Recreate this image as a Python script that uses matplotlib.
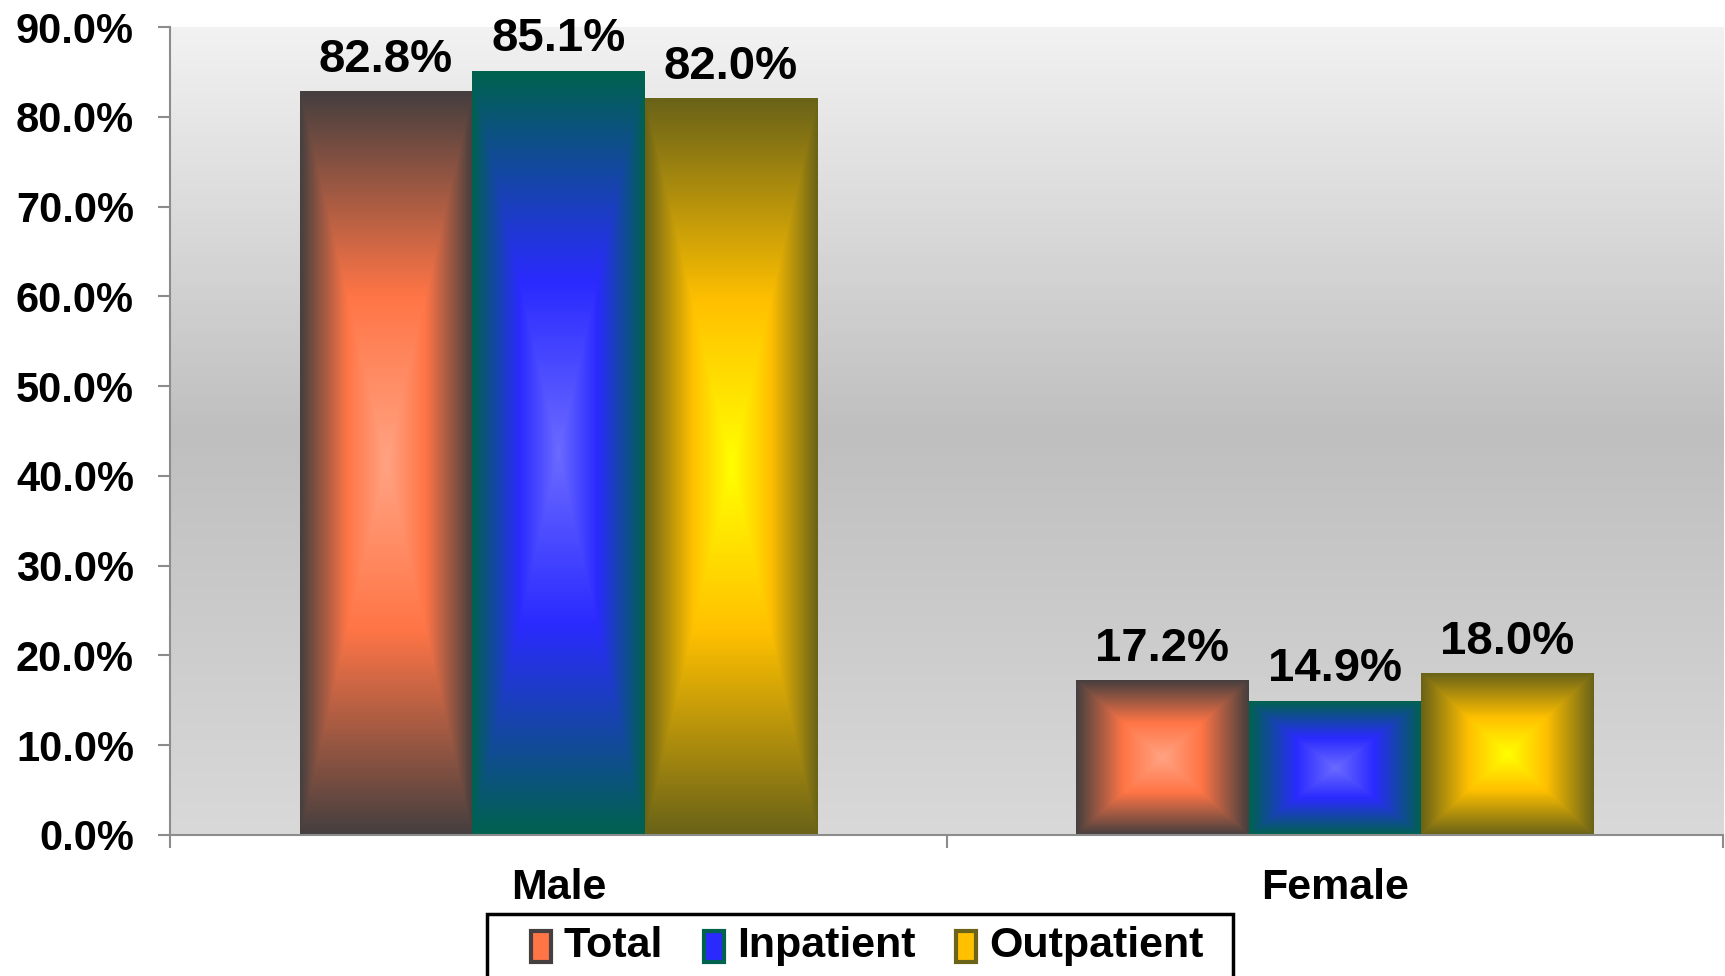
import numpy as np
import matplotlib
matplotlib.use("Agg")
import matplotlib.pyplot as plt
from matplotlib.colors import LinearSegmentedColormap
from matplotlib.patches import Rectangle
from matplotlib.legend_handler import HandlerPatch

plt.rcParams["font.family"] = ["Liberation Sans", "DejaVu Sans"]
plt.rcParams["font.weight"] = "bold"

# ---- Data -------------------------------------------------------------
categories = ["Male", "Female"]
series = ["Total", "Inpatient", "Outpatient"]
total = [82.8, 17.2]
inpatient = [85.1, 14.9]
outpatient = [82.0, 18.0]
yticks = [0, 10, 20, 30, 40, 50, 60, 70, 80, 90]

# light centre, base colour, dark rim
ramps = {
    "Total": ["#ffa383", "#ff7546", "#463f3f"],
    "Inpatient": ["#6b6bff", "#2a2aff", "#00624f"],
    "Outpatient": ["#ffff00", "#ffc000", "#6a6318"],
}


def rect_gradient(stops, n=200):
    u = np.linspace(-1, 1, n)
    U, V = np.meshgrid(u, u)
    t = np.maximum(np.abs(U), np.abs(V))
    cmap = LinearSegmentedColormap.from_list(
        "g", [(0, stops[0]), (0.45, stops[1]), (1, stops[2])])
    return cmap(t)


fig = plt.figure(figsize=(17.25, 9.76), dpi=100)
ax = fig.add_axes([0.0986, 0.1445, 0.9004, 0.8278])

# plot-area background: light at top, darker in the middle, lighter at bottom
bg = LinearSegmentedColormap.from_list(
    "bg", [(0, "#d9d9d9"), (0.5, "#bfbfbf"), (1, "#f2f2f2")])
ax.imshow(np.linspace(0, 1, 256).reshape(-1, 1), cmap=bg, origin="lower",
          extent=(0, 1, 0, 1), transform=ax.transAxes, aspect="auto", zorder=0)

x = np.arange(len(categories))
w = 1 / 4.5
for i, (name, vals) in enumerate(zip(series, [total, inpatient, outpatient])):
    bars = ax.bar(x + (i - 1) * w, vals, w, facecolor="none",
                  edgecolor="none", zorder=2)
    img = rect_gradient(ramps[name])
    for b, v in zip(bars, vals):
        x0 = b.get_x()
        ax.imshow(img, extent=(x0, x0 + w, 0, v), aspect="auto", zorder=2,
                  interpolation="bilinear")
        ax.annotate(f"{v:.1f}%", (x0 + w / 2, v), xytext=(0, 7),
                    textcoords="offset points", ha="center", va="bottom",
                    fontsize=34, fontweight="bold")

ax.set_xlim(-0.5, 1.5)
ax.set_ylim(0, 90)
ax.set_yticks(yticks)
ax.set_yticklabels([f"{t:.1f}%" for t in yticks])
ax.set_xticks([-0.5, 0.5, 1.5])
ax.set_xticklabels([])
ax.set_xticks(x, minor=True)
ax.set_xticklabels(categories, minor=True)

for s in ["top", "right"]:
    ax.spines[s].set_visible(False)
for s in ["left", "bottom"]:
    ax.spines[s].set_color("#8c8c8c")
    ax.spines[s].set_linewidth(1.5)
ax.tick_params(axis="y", direction="out", length=9, width=1.5, color="#8c8c8c",
               labelsize=30, pad=17)
ax.tick_params(axis="x", which="major", direction="out", length=9, width=1.5,
               color="#8c8c8c")
ax.tick_params(axis="x", which="minor", length=0, labelsize=31, pad=24)
for lab in ax.get_yticklabels() + ax.get_xticklabels(minor=True):
    lab.set_fontweight("bold")


class GradHandler(HandlerPatch):
    def create_artists(self, legend, orig, xd, yd, width, height, fontsize, trans):
        r = Rectangle((xd, yd - 2), width, height + 4,
                      facecolor=orig.get_facecolor(),
                      edgecolor=orig.get_edgecolor(), linewidth=3,
                      transform=trans)
        return [r]


# legend box runs off the bottom edge, like the original
fig.patches.append(Rectangle((0.2823, -0.05), 0.4325, 0.1135,
                             transform=fig.transFigure, facecolor="white",
                             edgecolor="black", linewidth=2.5))

handles = [Rectangle((0, 0), 1, 1, facecolor=ramps[s][1], edgecolor=ramps[s][2])
           for s in series]
leg = fig.legend(handles, series, loc="center left",
                 bbox_to_anchor=(0.3078, 0.0307), ncol=3, frameon=False,
                 handlelength=0.46, handleheight=0.55, handletextpad=0.3,
                 columnspacing=0.95, borderpad=0, borderaxespad=0,
                 handler_map={Rectangle: GradHandler()},
                 prop={"weight": "bold", "size": 31})

plt.savefig("out.png", dpi=100)
